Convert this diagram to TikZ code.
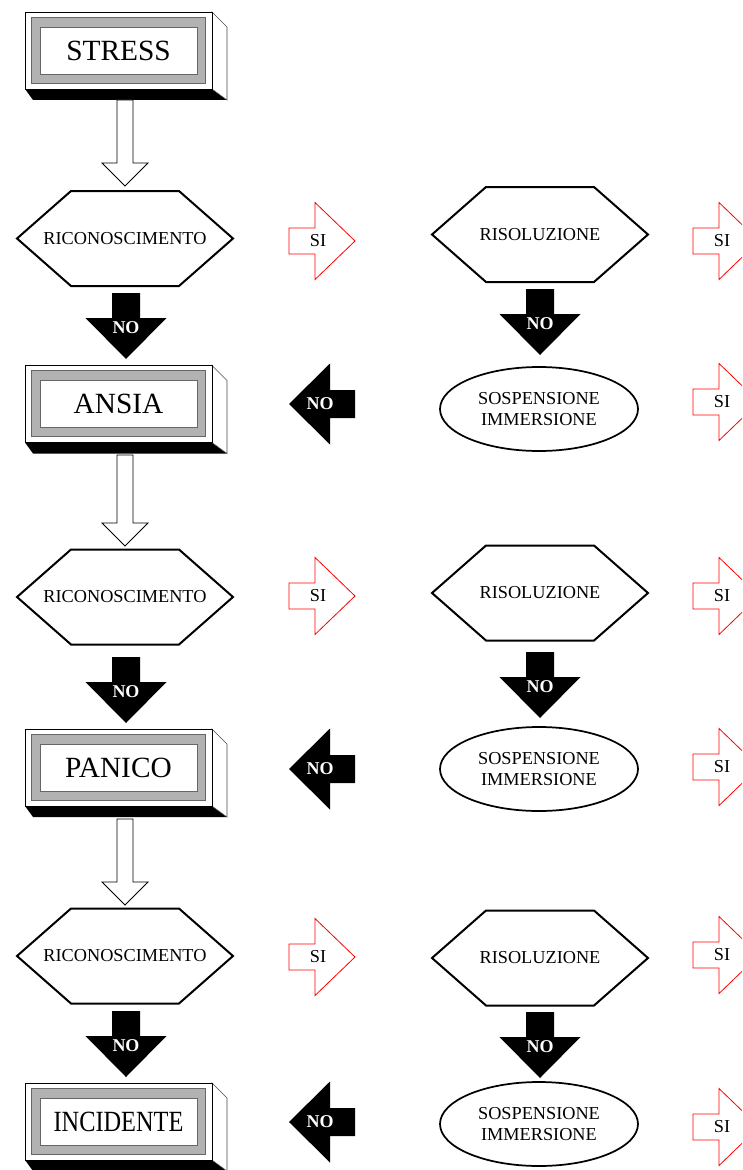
\documentclass[tikz,border=0pt]{standalone}
\usepackage{fontspec}
\setmainfont{Liberation Serif}
\usepackage{graphicx}
\usetikzlibrary{shapes.geometric}

\tikzset{
  pics/box3d/.style={code={
    \fill[black] (-93.5,38.5) -- (93.5,38.5) -- (108.5,49.5) -- (-85.5,49.5) -- cycle;
    \draw[fill=white,draw=black!70] (93.5,-38.5) -- (108.5,-23.5) -- (108.5,49.5) -- (93.5,38.5) -- cycle;
    \draw[fill=white] (-93.5,-38.5) rectangle (93.5,38.5);
    \draw[fill=black!30,draw=black!60] (-87.5,-33.5) rectangle (86.5,32.5);
    \draw[fill=white,draw=black!60] (-78.5,-23.5) rectangle (78.5,23.5);
    \node[bigtext] (-t) {#1};
  }},
  pics/hexa/.style={code={
    \draw[line width=1.5pt,line join=miter,fill=white]
      (-108,0) -- (-54,-47.5) -- (54,-47.5) -- (108,0) -- (54,47.5) -- (-54,47.5) -- cycle;
    \node[smalltext] (-t) {#1};
  }},
  pics/hollow/.style={code={
    \draw[semithick,fill=white]
      (0,0) -- (23,-23) -- (8,-23) -- (8,-#1) -- (-8,-#1) -- (-8,-23) -- (-23,-23) -- cycle;
  }},
  pics/noarrow/.style={code={
    \fill (0,0) -- (40.5,-41) -- (14,-41) -- (14,-66) -- (-14,-66) -- (-14,-41) -- (-40.5,-41) -- cycle;
    \node[notext] (-t) at (0,-31) {NO};
  }},
  pics/siarrow/.style={code={
    \draw[red,semithick]
      (0,0) -- (-40,-38.5) -- (-40,-13) -- (-66,-13) -- (-66,13) -- (-40,13) -- (-40,38.5) -- cycle;
    \node[smalltext] (-t) at (-37,0) {SI};
  }},
}

\begin{document}
\begin{tikzpicture}[x=0.75pt,y=-0.75pt,
  bigtext/.style={font=\fontsize{22}{24}\selectfont},
  smalltext/.style={font=\fontsize{13.7}{16}\selectfont},
  notext/.style={text=white,font=\fontsize{13.5}{15}\selectfont\bfseries},
  ellbox/.style={ellipse,draw,line width=1.3pt,minimum width=148.5pt,minimum height=63pt,
    inner sep=0pt,align=center,font=\fontsize{13.7}{15.75}\selectfont}]
\clip (0,0) rectangle (742,1170);

% left column
\pic (stress) at (118.5,50.5) {box3d=STRESS};
\pic at (125,186) {hollow=86};
\pic (ricA) at (125,238.5) {hexa=RICONOSCIMENTO};
\pic (noA) at (126,359) {noarrow};
\pic (ansia) at (118.5,404) {box3d=ANSIA};
\pic at (125,546) {hollow=91};
\pic (ricB) at (125,597) {hexa=RICONOSCIMENTO};
\pic (noB) at (126,723) {noarrow};
\pic (panico) at (118.5,767.5) {box3d=PANICO};
\pic at (125,905) {hollow=86};
\pic (ricC) at (125,956) {hexa=RICONOSCIMENTO};
\pic (noC) at (126,1077) {noarrow};
\pic (incid) at (118.5,1121.5) {box3d={\scalebox{0.83}[1]{INCIDENTE}}};

% middle column
\pic (siA) at (355,241) {siarrow};
\pic[rotate=-90] (backA) at (289,404) {noarrow};
\pic (siB) at (355,596) {siarrow};
\pic[rotate=-90] (backB) at (289,769) {noarrow};
\pic (siC) at (355,957) {siarrow};
\pic[rotate=-90] (backC) at (289,1122) {noarrow};

% right column
\pic (risA) at (540,234.5) {hexa=RISOLUZIONE};
\pic (noD) at (540,355) {noarrow};
\node[ellbox] (sosA) at (539,409) {SOSPENSIONE\\IMMERSIONE};
\pic (risB) at (540,593) {hexa=RISOLUZIONE};
\pic (noE) at (540,718) {noarrow};
\node[ellbox] (sosB) at (539,769) {SOSPENSIONE\\IMMERSIONE};
\pic (risC) at (540,958) {hexa=RISOLUZIONE};
\pic (noF) at (540,1078) {noarrow};
\node[ellbox] (sosC) at (539,1124) {SOSPENSIONE\\IMMERSIONE};

% outer SI arrows
\pic (siD) at (759,241) {siarrow};
\pic (siE) at (759,402) {siarrow};
\pic (siF) at (759,596) {siarrow};
\pic (siG) at (759,767) {siarrow};
\pic (siH) at (759,955) {siarrow};
\pic (siI) at (759,1127) {siarrow};
\end{tikzpicture}
\end{document}
